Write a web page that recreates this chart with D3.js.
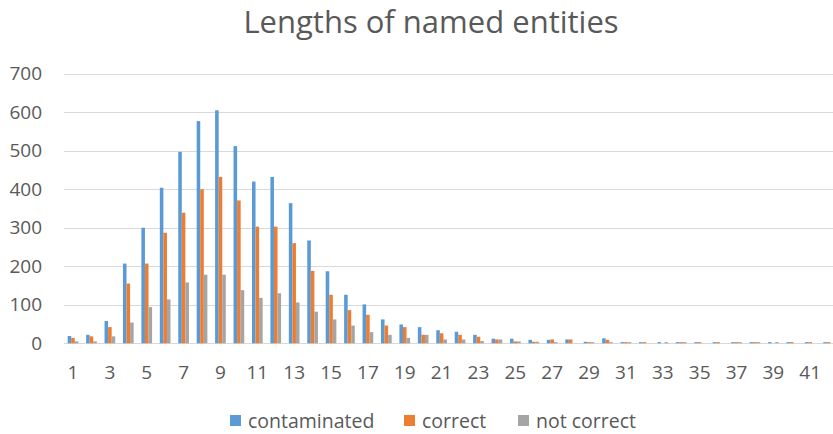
<!DOCTYPE html>
<html>
<head>
<meta charset="utf-8">
<script src="https://cdn.jsdelivr.net/npm/d3@7"></script>
<style>
  body { margin: 0; background: #fff; }
  svg { display: block; }
</style>
</head>
<body>
<div id="chart"></div>
<script>
// entity length (characters) on the x axis
const lengths = [1, 2, 3, 4, 5, 6, 7, 8, 9, 10, 11, 12, 13, 14, 15, 16, 17, 18, 19, 20, 21,
    22, 23, 24, 25, 26, 27, 28, 29, 30, 31, 32, 33, 34, 35, 36, 37, 38, 39, 40, 41, 42];
const contaminated = [19, 22, 58, 207, 300, 404, 497, 577, 605, 512, 420, 432, 364, 267, 187, 126, 101, 62, 49, 42, 34,
    30, 22, 12, 12, 9, 9, 10, 4, 13, 3, 3, 3, 3, 3, 3, 3, 3, 3, 3, 3, 3];
const correct = [14, 18, 42, 155, 207, 287, 339, 400, 432, 371, 303, 303, 260, 188, 126, 86, 74, 46, 42, 22, 26,
    22, 17, 10, 5, 4, 10, 10, 3, 9, 3, 3, 0, 3, 3, 3, 3, 3, 0, 3, 3, 3];
const notCorrect = [5, 5, 18, 54, 94, 114, 158, 178, 178, 138, 118, 130, 106, 82, 62, 46, 29, 22, 14, 22, 10,
    10, 6, 10, 5, 4, 3, 0, 3, 3, 3, 0, 3, 3, 0, 0, 3, 3, 3, 0, 0, 0];
const seriesNames = ["contaminated", "correct", "not correct"];
const yTicks = [0, 100, 200, 300, 400, 500, 600, 700];

function chart() {
    const width = 833;
    const height = 434;
    const colors = ["#5B9BD5", "#ED7D31", "#A5A5A5"];
    const values = [contaminated, correct, notCorrect];

    // plot area runs past the right edge, the original was cropped there
    const x = d3.scaleBand()
        .domain(lengths)
        .range([63.8, 63.8 + 42 * 18.43])
        .paddingInner(0.42)
        .paddingOuter(0.21);

    const xs = d3.scaleBand()
        .domain(seriesNames)
        .range([0, x.bandwidth()]);

    const y = d3.scaleLinear()
        .domain([0, 700])
        .range([343.3, 73.7]);

    const svg = d3.create("svg")
        .attr("width", width)
        .attr("height", height)
        .attr("viewBox", [0, 0, width, height])
        .attr("style", "font-family: 'Open Sans', sans-serif;");

    svg.append("text")
        .attr("x", 431)
        .attr("y", 33)
        .attr("text-anchor", "middle")
        .attr("fill", "#595959")
        .attr("font-size", 31)
        .text("Lengths of named entities");

    // gridlines
    svg.append("g")
        .attr("stroke", "#D9D9D9")
        .attr("stroke-width", 1)
        .selectAll()
        .data(yTicks)
        .join("line")
        .attr("x1", 63.8)
        .attr("x2", width)
        .attr("y1", d => Math.round(y(d)) + 0.5)
        .attr("y2", d => Math.round(y(d)) + 0.5);

    svg.append("g")
        .attr("fill", "#595959")
        .attr("font-size", 19)
        .attr("text-anchor", "end")
        .selectAll()
        .data(yTicks)
        .join("text")
        .attr("x", 42)
        .attr("y", d => y(d))
        .attr("dy", "0.35em")
        .text(d => d);

    const groups = svg.append("g")
        .selectAll()
        .data(lengths)
        .join("g")
        .attr("transform", d => `translate(${x(d)},0)`);

    groups.selectAll("rect")
        .data((d, i) => seriesNames.map((s, k) => ({s, k, v: values[k][i]})))
        .join("rect")
        .attr("x", d => xs(d.s))
        .attr("width", xs.bandwidth())
        .attr("y", d => y(d.v))
        .attr("height", d => y(0) - y(d.v))
        .attr("fill", d => colors[d.k]);

    // every other category gets a label
    svg.append("g")
        .attr("fill", "#595959")
        .attr("font-size", 19)
        .attr("text-anchor", "middle")
        .selectAll()
        .data(lengths.filter(d => d % 2 === 1))
        .join("text")
        .attr("x", d => x(d) + x.bandwidth() / 2)
        .attr("y", 379)
        .text(d => d);

    const legendX = [230, 404, 518];
    const legend = svg.append("g")
        .selectAll()
        .data(seriesNames)
        .join("g")
        .attr("transform", (d, i) => `translate(${legendX[i]},420)`);

    legend.append("rect")
        .attr("y", -5)
        .attr("width", 11)
        .attr("height", 11)
        .attr("fill", (d, i) => colors[i]);

    legend.append("text")
        .attr("x", 18)
        .attr("dy", "0.4em")
        .attr("fill", "#595959")
        .attr("font-size", 19.5)
        .text(d => d);

    return svg.node();
}

document.getElementById("chart").appendChild(chart());
</script>
</body>
</html>
